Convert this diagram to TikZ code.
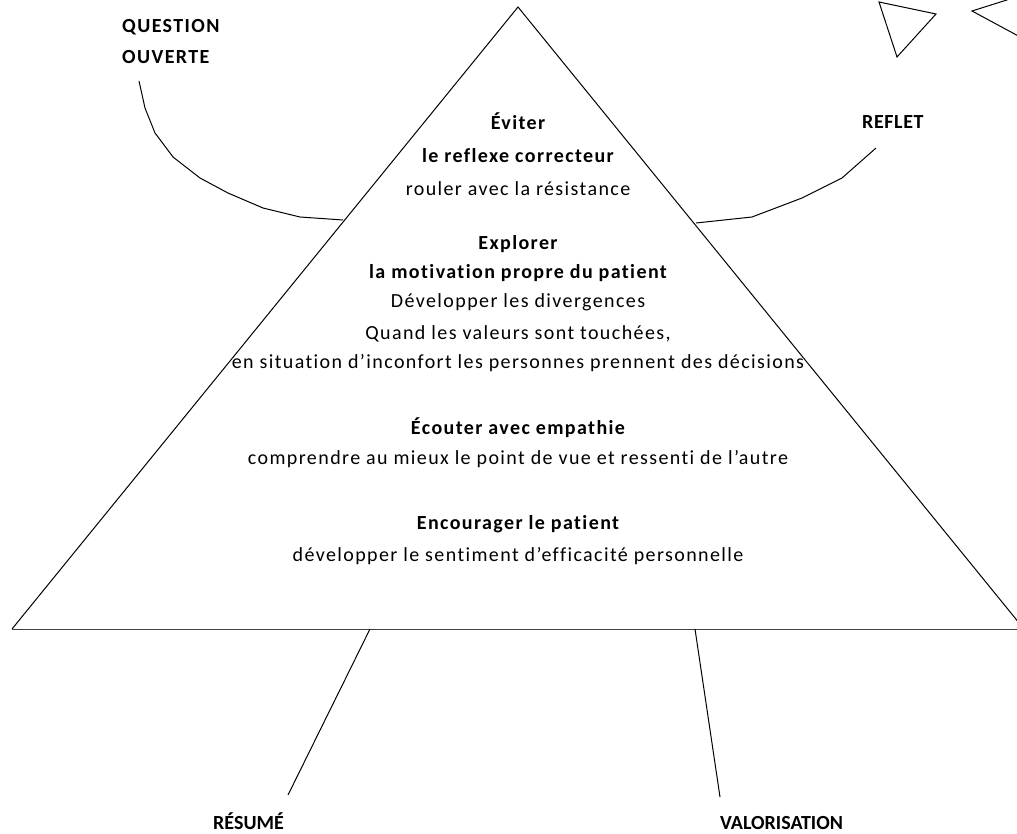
\documentclass[tikz,border=0pt]{standalone}
\usepackage{fontspec}
\setmainfont{Carlito}[LetterSpace=7,Ligatures={NoCommon}]
\newfontfamily\tightfont{Carlito}[Ligatures={NoCommon}]
\newfontfamily\midfont{Carlito}[LetterSpace=3,Ligatures={NoCommon}]
\begin{document}
\begin{tikzpicture}[x=1pt,y=-1pt,
  line/.style={draw=black,line width=1pt},
  hd/.style={font=\fontsize{20}{24}\selectfont\bfseries,inner sep=0pt,anchor=base},
  tx/.style={font=\fontsize{20}{24}\selectfont,inner sep=0pt,anchor=base},
  lab/.style={font=\fontsize{20}{24}\selectfont\bfseries,inner sep=0pt,anchor=base west},
  reflab/.style={font=\midfont\fontsize{20}{24}\selectfont\bfseries,inner sep=0pt,anchor=base west},
  botlab/.style={font=\tightfont\fontsize{20}{24}\selectfont\bfseries,inner sep=0pt,anchor=base west}]
\useasboundingbox (0,0) rectangle (1017,834);
\begin{scope}
\clip (0,0) rectangle (1017,834);
% pyramid
\coordinate (apex) at (518,7);
\coordinate (bl) at (12,629);
\coordinate (br) at (1024,629);
\draw[line] (bl) -- (apex) -- (br);
\draw[line,draw=black!75] (bl) -- (br);
% small triangles top right
\draw[line] (879,2) -- (936,14) -- (897,57) -- cycle;
\draw[line] (1010,-1) -- (972,11) -- (1035,45);
\end{scope}
% texts inside pyramid
\node[hd] (t1) at (518,130) {Éviter};
\node[hd] (t2) at (518,163) {le reflexe correcteur};
\node[tx] (t3) at (518,196) {rouler avec la résistance};
\node[hd] (t4) at (518,250) {Explorer};
\node[hd] (t5) at (518,279) {la motivation propre du patient};
\node[tx] (t6) at (518,308) {Développer les divergences};
\node[tx] (t7) at (518,339) {Quand les valeurs sont touchées,};
\node[tx] (t8) at (518,368) {en situation d’inconfort les personnes prennent des décisions};
\node[hd] (t9) at (518,434) {Écouter avec empathie};
\node[tx] (t10) at (518,464) {comprendre au mieux le point de vue et ressenti de l’autre};
\node[hd] (t11) at (518,529) {Encourager le patient};
\node[tx] (t12) at (518,561) {développer le sentiment d’efficacité personnelle};
% outside labels
\node[lab] (qo1) at (122,33) {QUESTION};
\node[lab] (qo2) at (122,64) {OUVERTE};
\node[reflab] (ref) at (862,129) {REFLET};
\node[botlab] (res) at (213,829) {RÉSUMÉ};
\node[botlab] (val) at (720,829) {VALORISATION};
% connectors
\coordinate (qoE) at (343,220);
\coordinate (refE) at (696,223);
\coordinate (resE) at (370,629);
\coordinate (valE) at (695,629);
\draw[line] (139,81) -- (145,108) -- (155,133) -- (173,157) -- (200,178) -- (228,193) -- (263,208) -- (300,217) -- (qoE);
\draw[line] (876,148) -- (842,178) -- (802,198) -- (752,217) -- (refE);
\draw[line] (resE) -- (288,795);
\draw[line] (valE) -- (720,797);
\end{tikzpicture}
\end{document}
